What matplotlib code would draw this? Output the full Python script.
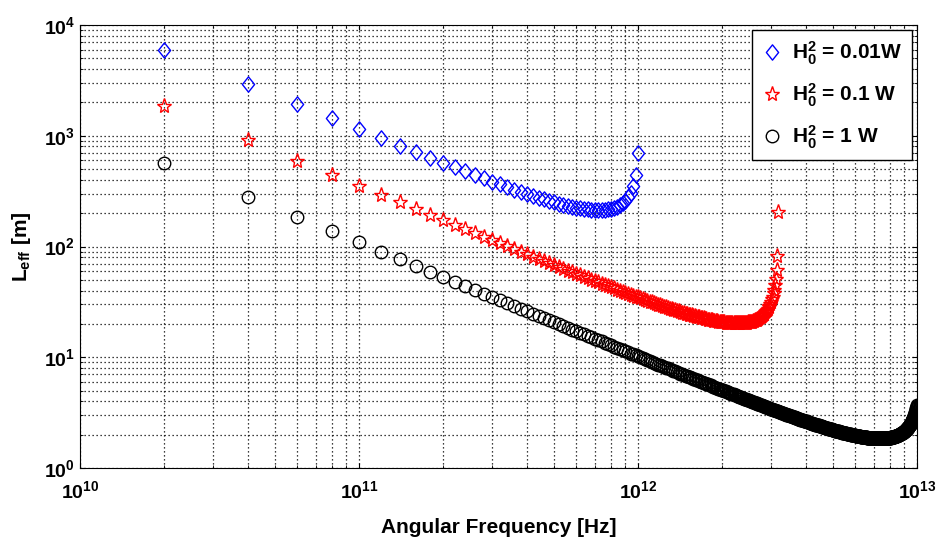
import numpy as np
import matplotlib
matplotlib.use('Agg')
import matplotlib.pyplot as plt
from matplotlib.path import Path

# Angular frequency grid step (points sit at k * step, k = 1, 2, ...)
freq_step = 2e10

# L_eff [m] for each series
leff_001W = [6001,2941,1939,1443,1149,954,816,714,634,571,520,478,442,412,386,364,344,327,312,299,
             287,276,267,258,251,244,238,233,228,224,221,218,216,214,213,213,213,214,216,219,
             223,229,237,247,260,279,307,352,438,700]

leff_01W = [1850,906,597,444,353,292,250,218,193,173,157,144,132,123,114,107,101,94.8,89.8,85.2,
            81.1,77.4,74.0,70.9,68.0,65.4,63.0,60.7,58.6,56.7,54.9,53.2,51.6,50.1,48.7,47.4,46.1,45.0,43.8,42.8,
            41.8,40.8,39.9,39.1,38.2,37.5,36.7,36.0,35.3,34.7,34.0,33.4,32.9,32.3,31.8,31.3,30.8,30.3,29.9,29.4,
            29.0,28.6,28.2,27.9,27.5,27.2,26.8,26.5,26.2,25.9,25.6,25.3,25.1,24.8,24.6,24.3,24.1,23.9,23.7,23.5,
            23.3,23.1,22.9,22.7,22.5,22.4,22.2,22.1,21.9,21.8,21.6,21.5,21.4,21.3,21.2,21.1,21.0,20.9,20.8,20.7,
            20.6,20.6,20.5,20.4,20.4,20.3,20.3,20.3,20.2,20.2,20.2,20.2,20.2,20.2,20.2,20.2,20.2,20.2,20.3,
            20.3,20.4,20.4,20.5,20.6,20.7,20.8,20.9,21.0,21.2,21.3,21.5,21.7,21.9,22.1,22.3,22.6,22.9,23.2,23.5,
            23.9,24.4,24.8,25.4,26.0,26.6,27.4,28.2,29.2,30.4,31.7,33.3,35.2,37.7,40.8,45.0,51.2,61.3,82.5,205]

leff_1W = [570,279,184,137,109,90.0,76.8,66.9,59.3,53.2,48.2,44.1,40.6,37.6,35.0,32.8,30.8,29.1,27.5,26.1,
           24.8,23.6,22.6,21.6,20.7,19.9,19.1,18.4,17.8,17.2,16.6,16.1,15.6,15.1,14.7,14.3,13.9,13.5,13.1,12.8,
           12.5,12.2,11.9,11.6,11.3,11.1,10.8,10.6,10.4,10.2,9.98,9.79,9.60,9.42,9.24,9.07,8.91,8.76,8.60,8.46,
           8.32,8.18,8.05,7.92,7.80,7.68,7.56,7.45,7.34,7.24,7.13,7.03,6.93,6.84,6.75,6.66,6.57,6.49,6.40,6.32,
           6.24,6.17,6.09,6.02,5.95,5.88,5.81,5.75,5.68,5.62,5.56,5.50,5.44,5.38,5.32,5.27,5.22,5.16,5.11,5.06,
           5.01,4.96,4.91,4.87,4.82,4.78,4.73,4.69,4.65,4.61,4.56,4.52,4.49,4.45,4.41,4.37,4.34,4.30,4.26,4.23,
           4.20,4.16,4.13,4.10,4.07,4.03,4.00,3.97,3.94,3.91,3.89,3.86,3.83,3.80,3.78,3.75,3.72,3.70,3.67,3.65,
           3.62,3.60,3.57,3.55,3.53,3.50,3.48,3.46,3.44,3.42,
           3.40,3.37,3.35,3.33,3.31,3.29,3.27,3.25,3.24,3.22,3.20,3.18,3.16,3.14,3.13,3.11,3.09,3.08,3.06,3.04,
           3.03,3.01,3.00,2.98,2.96,2.95,2.93,2.92,2.91,2.89,2.88,2.86,2.85,2.83,2.82,2.81,2.79,2.78,2.77,2.76,
           2.74,2.73,2.72,2.71,2.69,2.68,2.67,2.66,2.65,2.64,2.63,2.61,2.60,2.59,2.58,2.57,2.56,2.55,2.54,2.53,
           2.52,2.51,2.50,2.49,2.48,2.47,2.46,2.45,2.44,2.44,2.43,2.42,2.41,2.40,2.39,2.38,2.38,2.37,2.36,2.35,
           2.34,2.33,2.33,2.32,2.31,2.30,2.30,2.29,2.28,2.27,2.27,2.26,2.25,2.25,2.24,2.23,2.23,2.22,2.21,2.21,
           2.20,2.19,2.19,2.18,2.18,2.17,2.16,2.16,2.15,2.15,2.14,2.14,2.13,2.12,2.12,2.11,2.11,2.10,2.10,2.09,
           2.09,2.08,2.08,2.07,2.07,2.06,2.06,2.05,2.05,2.04,2.04,2.04,2.03,2.03,2.02,2.02,2.01,2.01,2.01,2.00,
           2.00,2.00,1.99,1.99,1.98,1.98,1.98,1.97,1.97,1.97,
           1.96,1.96,1.96,1.95,1.95,1.95,1.94,1.94,1.94,1.93,1.93,1.93,1.93,1.92,1.92,1.92,1.92,1.91,1.91,1.91,
           1.91,1.90,1.90,1.90,1.90,1.89,1.89,1.89,1.89,1.89,1.88,1.88,1.88,1.88,1.88,1.87,1.87,1.87,1.87,1.87,
           1.87,1.87,1.86,1.86,1.86,1.86,1.86,1.86,1.86,1.86,1.86,1.85,1.85,1.85,1.85,1.85,1.85,1.85,1.85,1.85,
           1.85,1.85,1.85,1.85,1.85,1.85,1.85,1.85,1.85,1.85,1.85,1.85,1.85,1.85,1.85,1.85,1.85,1.85,1.85,1.85,
           1.85,1.85,1.85,1.85,1.86,1.86,1.86,1.86,1.86,1.86,1.86,1.86,1.87,1.87,1.87,1.87,1.87,1.88,1.88,1.88,
           1.88,1.88,1.89,1.89,1.89,1.89,1.90,1.90,1.90,1.91,1.91,1.91,1.92,1.92,1.92,1.93,1.93,1.93,1.94,1.94,
           1.95,1.95,1.95,1.96,1.96,1.97,1.97,1.98,1.98,1.99,2.00,2.00,2.01,2.01,2.02,2.03,2.03,2.04,2.05,2.06,
           2.06,2.07,2.08,2.09,2.10,2.10,2.11,2.12,2.13,2.14,2.15,2.16,2.17,2.18,2.20,2.21,2.22,2.23,2.25,2.26,
           2.27,2.29,2.30,2.32,2.33,2.35,2.37,2.38,2.40,2.42,2.44,2.46,2.48,2.50,2.53,2.55,2.57,2.60,2.63,2.66,
           2.69,2.72,2.75,2.78,2.82,2.86,2.90,2.94,2.98,3.03,3.08,3.13,3.19,3.25,3.31,3.38,3.46,3.54,3.62,3.72]

labels = [r'$\mathregular{H_0^2}$ = 0.01W', r'$\mathregular{H_0^2}$ = 0.1 W', r'$\mathregular{H_0^2}$ = 1 W']
x_label = 'Angular Frequency [Hz]'
y_label = r'$\mathregular{L_{eff}}$ [m]'

plt.rcParams['font.family'] = ['Liberation Sans', 'DejaVu Sans']
plt.rcParams['font.weight'] = 'bold'
plt.rcParams['mathtext.fontset'] = 'custom'
plt.rcParams['mathtext.rm'] = 'Liberation Sans:bold'
plt.rcParams['mathtext.bf'] = 'Liberation Sans:bold'
plt.rcParams['mathtext.it'] = 'Liberation Sans:bold:italic'

fig = plt.figure(figsize=(9.36, 5.42), dpi=100)
ax = fig.add_axes([80/936, 1-468/542, (917-80)/936, (468-25)/542])
dia = Path([(0, 1), (0.8, 0), (0, -1), (-0.8, 0), (0, 1)], closed=True)

def freqs(n):
    return freq_step * np.arange(1, n + 1)

ax.plot(freqs(len(leff_001W)), leff_001W, ls='none', marker=dia, ms=11, mfc='none',
        mec='blue', mew=1.0, label=labels[0])
ax.plot(freqs(len(leff_01W)), leff_01W, ls='none', marker='*', ms=11, mfc='none',
        mec='red', mew=1.0, label=labels[1])
ax.plot(freqs(len(leff_1W)), leff_1W, ls='none', marker='o', ms=9, mfc='none',
        mec='black', mew=1.0, label=labels[2])

ax.set_xscale('log')
ax.set_yscale('log')
ax.set_xlim(1e10, 1e13)
ax.set_ylim(1, 1e4)
ax.grid(True, which='both', color='black', lw=0.9, dashes=(1, 2.2))
ax.tick_params(which='both', direction='in', top=True, right=True, labelsize=14)
ax.tick_params(axis='x', which='both', pad=9)
ax.set_xlabel(x_label, fontsize=15, fontweight='bold', labelpad=11)
ax.set_ylabel(y_label, fontsize=15, fontweight='bold', labelpad=8)
ax.legend(loc='upper right', fontsize=15, fancybox=False, edgecolor='black', framealpha=1,
          borderaxespad=0.25, labelspacing=0.7, handlelength=1.0, handletextpad=0.5, borderpad=0.45)
fig.savefig('out.png', dpi=100)
